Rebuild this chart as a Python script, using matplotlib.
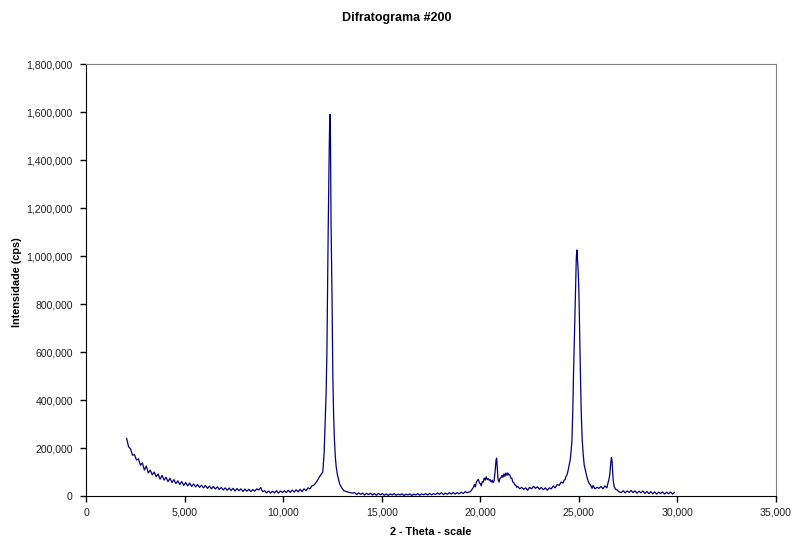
import numpy as np
import matplotlib
matplotlib.use("Agg")
import matplotlib.pyplot as plt
from matplotlib.ticker import FuncFormatter, MultipleLocator

# decaying background at low angle (x from 2060, step 100), counts in thousands
bg_start = 2060
bg_step = 100
bg_y = [240, 205, 196, 170, 172, 150, 155, 128, 138, 108,
        125, 96, 108, 88, 100, 80, 92, 70, 86, 66,
        78, 60, 74, 56, 68, 52, 63, 48, 60, 44,
        56, 42, 54, 40, 50, 38, 48, 36, 45, 34,
        44, 32, 41, 30, 40, 29, 38, 27, 36, 25,
        34, 24, 33, 23, 32, 21, 31, 22, 30, 19,
        29, 20, 28, 18, 27, 20, 30, 25, 35, 18,
        22, 13, 21, 12, 20, 13, 22, 12, 21, 14,
        22, 14, 24, 15, 25, 16, 26, 17, 28, 18,
        30, 22, 34, 30, 42, 45, 55, 68, 82]

# main peak around 12,400
peak1_x = [12010, 12080, 12130, 12180, 12220, 12280, 12330, 12360, 12380, 12400,
           12430, 12480, 12520, 12560, 12600, 12650, 12690, 12750, 12810, 12880,
           12970, 13080, 13230, 13380, 13530]
peak1_y = [100, 180, 300, 430, 600, 1070, 1400, 1560, 1590, 1500,
           1140, 820, 500, 340, 235, 160, 122, 90, 68, 48,
           34, 22, 18, 14, 12]

# flat region (x from 13630, step 100)
flat_start = 13630
flat_step = 100
flat_y = [14, 6, 13, 7, 12, 4, 11, 6, 12, 4, 10, 3, 11, 5, 10, 3, 9, 2, 9, 4,
          10, 3, 8, 4, 9, 2, 8, 4, 9, 2, 8, 4, 10, 3, 9, 5, 10, 4, 11, 5,
          10, 6, 13, 7, 14, 6, 12, 7, 14, 8, 15, 8, 14, 9, 16, 10, 18, 14]

# small peaks, second big peak and shoulder
mid_x = [19500, 19600, 19650, 19700, 19750, 19800, 19850, 19900, 19950, 20000,
         20050, 20100, 20150, 20200, 20250, 20300, 20350, 20400, 20450, 20500,
         20550, 20600, 20650, 20700, 20750, 20800, 20830, 20860, 20900, 20950,
         21000, 21050, 21100, 21150, 21200, 21250, 21300, 21350, 21400, 21450,
         21500, 21550, 21600, 21650, 21700, 21750, 21800, 21850, 21900, 22000,
         22100, 22200, 22300, 22400, 22500, 22600, 22700, 22800, 22900, 23000,
         23100, 23200, 23300, 23400, 23500, 23600, 23700, 23800, 23900, 24000,
         24100, 24200, 24250, 24300, 24350, 24400, 24450, 24500, 24560, 24610,
         24650, 24690, 24730, 24780, 24830, 24870, 24900, 24920, 24960, 25000,
         25040, 25080, 25120, 25170, 25220, 25270, 25330, 25390, 25470, 25540,
         25590, 25670, 25720, 25820, 25920, 26020, 26120, 26220, 26320, 26420,
         26480, 26530, 26570, 26610, 26650, 26680, 26710, 26740, 26790, 26860,
         26930, 27030]
mid_y = [18, 30, 36, 48, 38, 58, 64, 70, 55, 52,
         42, 60, 58, 75, 66, 80, 68, 72, 66, 68,
         58, 66, 56, 64, 100, 150, 158, 120, 70, 58,
         74, 76, 86, 78, 92, 82, 96, 86, 96, 88,
         88, 74, 74, 58, 56, 46, 46, 36, 40, 30,
         36, 28, 34, 24, 36, 30, 40, 32, 38, 28,
         36, 26, 34, 24, 34, 30, 42, 34, 48, 44,
         58, 54, 66, 68, 82, 88, 105, 125, 150, 190,
         233, 350, 510, 680, 860, 990, 1025, 1000, 950, 860,
         680, 510, 350, 233, 175, 130, 108, 85, 62, 50,
         46, 32, 44, 30, 36, 32, 40, 30, 42, 34,
         55, 70, 90, 130, 160, 150, 110, 67, 40, 28,
         26, 18]

# tail (x from 27150, step 100)
tail_start = 27150
tail_step = 100
tail_y = [14, 22, 13, 21, 15, 23, 14, 21, 12, 20, 13, 21, 11, 19, 10, 18,
          9, 17, 8, 16, 10, 17, 8, 16, 9, 17, 8, 15]

bg_x = [bg_start + i * bg_step for i in range(len(bg_y))]
flat_x = [flat_start + i * flat_step for i in range(len(flat_y))]
tail_x = [tail_start + i * tail_step for i in range(len(tail_y))]

x = np.array(bg_x + peak1_x + flat_x + mid_x + tail_x)
y = np.array(bg_y + peak1_y + flat_y + mid_y + tail_y) * 1000

plt.rcParams["font.family"] = ["Liberation Sans", "DejaVu Sans"]

fig = plt.figure(figsize=(7.93, 5.4), dpi=100)
ax = fig.add_axes([86 / 793, 44 / 540, 690 / 793, 432 / 540])

ax.plot(x, y, color="#000080", linewidth=0.9)

ax.set_xlim(0, 35000)
ax.set_ylim(0, 1800000)
ax.xaxis.set_major_locator(MultipleLocator(5000))
ax.yaxis.set_major_locator(MultipleLocator(200000))
fmt = FuncFormatter(lambda v, p: f"{int(v):,}")
ax.xaxis.set_major_formatter(fmt)
ax.yaxis.set_major_formatter(fmt)
ax.tick_params(direction="out", length=4, width=1, labelsize=7.6, colors="black")
ax.tick_params(axis="y", pad=5.5)
ax.tick_params(axis="x", pad=4.5)
for lab in ax.get_xticklabels() + ax.get_yticklabels():
    lab.set_color("#222222")

ax.spines["left"].set_color("black")
ax.spines["bottom"].set_color("black")
ax.spines["top"].set_color("#808080")
ax.spines["right"].set_color("#808080")

fig.text(397 / 793, 1 - 18 / 540, "Difratograma #200", ha="center", va="center",
         fontsize=9, fontweight="bold")
fig.text(431 / 793, 1 - 532 / 540, "2 - Theta - scale", ha="center", va="center",
         fontsize=7.8, fontweight="bold")
fig.text(17 / 793, 1 - 282 / 540, "Intensidade (cps)", ha="center", va="center",
         rotation=90, fontsize=7.8, fontweight="bold")

fig.savefig("out.png", dpi=100)
